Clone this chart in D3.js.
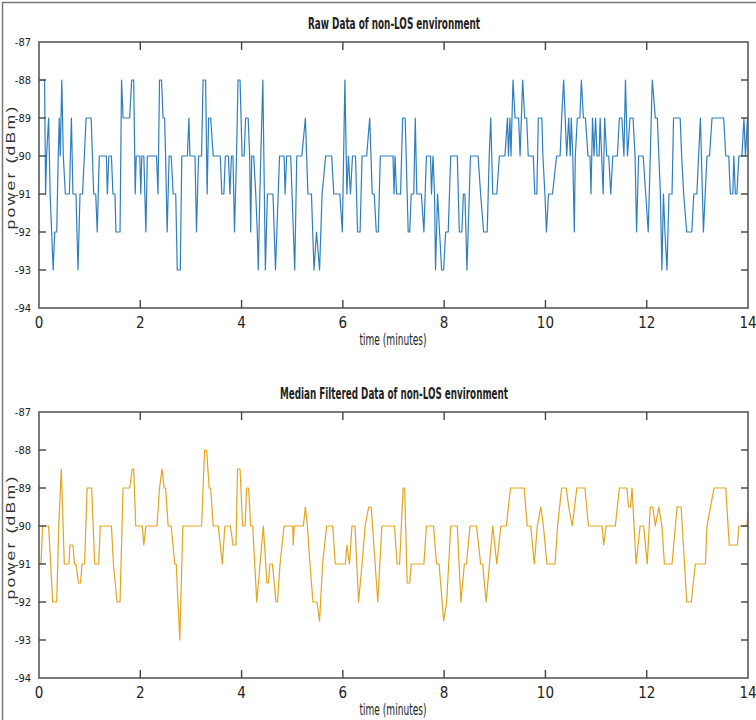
<!DOCTYPE html>
<html lang="en">
<head>
<meta charset="UTF-8">
<title>non-LOS environment</title>
<script src="https://cdn.jsdelivr.net/npm/d3@7"></script>
<style>
  body { margin: 0; background: #fff; }
  text { fill: #222; }
</style>
</head>
<body>
<svg id="viz"></svg>
<script>
// Data (time in minutes, power in dBm) ---
const rawData = [
  [0,-88],[0.11,-88],[0.13,-91],[0.15,-90],[0.19,-89],[0.22,-91],[0.25,-92],[0.28,-93],[0.31,-92],[0.35,-92],
  [0.38,-90],[0.40,-89],[0.42,-90],[0.45,-88],[0.48,-90],[0.52,-91],[0.60,-91],[0.64,-89],[0.67,-91],[0.73,-91],
  [0.77,-93],[0.81,-91],[0.86,-91],[0.93,-89],[1.03,-89],[1.08,-91],[1.12,-91],[1.15,-92],[1.19,-90],[1.33,-90],
  [1.35,-91],[1.38,-90],[1.43,-90],[1.46,-91],[1.50,-91],[1.52,-92],[1.60,-92],[1.63,-88],[1.66,-89],[1.79,-89],
  [1.83,-88],[1.87,-88],[1.90,-91],[1.92,-90],[1.99,-90],[2.01,-91],[2.03,-90],[2.07,-90],[2.11,-92],[2.14,-90],
  [2.32,-90],[2.35,-91],[2.38,-88],[2.42,-88],[2.45,-89],[2.48,-89],[2.50,-90],[2.53,-92],[2.57,-90],[2.61,-90],
  [2.65,-91],[2.70,-91],[2.73,-93],[2.79,-93],[2.82,-90],[2.93,-90],[2.96,-89],[2.98,-90],[3.08,-90],[3.11,-92],
  [3.15,-90],[3.21,-90],[3.24,-88],[3.29,-88],[3.32,-91],[3.35,-89],[3.39,-89],[3.44,-90],[3.58,-90],[3.61,-91],
  [3.65,-91],[3.68,-90],[3.74,-90],[3.77,-91],[3.80,-90],[3.83,-90],[3.86,-92],[3.90,-90],[3.93,-88],[3.97,-88],
  [4.01,-90],[4.05,-90],[4.08,-89],[4.13,-89],[4.16,-90],[4.18,-92],[4.20,-90],[4.24,-90],[4.28,-91],[4.31,-92],
  [4.33,-93],[4.36,-91],[4.42,-88],[4.47,-93],[4.51,-91],[4.62,-91],[4.67,-93],[4.75,-90],[4.84,-90],[4.86,-91],
  [4.89,-90],[4.97,-90],[5.05,-93],[5.09,-90],[5.19,-90],[5.26,-89],[5.31,-91],[5.38,-91],[5.43,-93],[5.48,-92],
  [5.54,-93],[5.59,-91],[5.66,-90],[5.78,-90],[5.82,-91],[5.94,-91],[5.99,-92],[6.04,-88],[6.08,-91],[6.11,-90],
  [6.15,-91],[6.19,-90],[6.25,-90],[6.29,-92],[6.34,-92],[6.38,-90],[6.47,-90],[6.53,-89],[6.58,-91],[6.62,-91],
  [6.66,-92],[6.70,-92],[6.74,-90],[6.99,-90],[7.01,-91],[7.03,-90],[7.06,-91],[7.14,-91],[7.18,-89],[7.23,-89],
  [7.27,-91],[7.29,-92],[7.32,-92],[7.35,-91],[7.40,-91],[7.43,-89],[7.46,-91],[7.55,-91],[7.60,-92],[7.65,-90],
  [7.73,-90],[7.75,-91],[7.78,-90],[7.81,-91],[7.83,-93],[7.87,-91],[7.91,-92],[7.95,-93],[7.99,-93],[8.03,-92],
  [8.08,-92],[8.13,-90],[8.26,-90],[8.30,-92],[8.35,-92],[8.38,-91],[8.41,-91],[8.45,-93],[8.52,-90],[8.67,-90],
  [8.72,-91],[8.78,-92],[8.85,-92],[8.89,-90],[8.92,-89],[8.96,-91],[9.04,-91],[9.09,-90],[9.20,-90],[9.25,-89],
  [9.27,-90],[9.30,-89],[9.32,-90],[9.36,-88],[9.40,-89],[9.47,-89],[9.50,-90],[9.55,-88],[9.59,-89],[9.63,-89],
  [9.66,-90],[9.76,-90],[9.79,-91],[9.83,-91],[9.86,-89],[9.93,-89],[9.95,-90],[9.99,-91],[10.02,-92],[10.06,-91],
  [10.14,-91],[10.22,-90],[10.29,-90],[10.32,-89],[10.36,-88],[10.39,-89],[10.42,-90],[10.46,-89],[10.49,-90],[10.51,-89],
  [10.54,-90],[10.57,-92],[10.59,-90],[10.63,-89],[10.68,-89],[10.71,-88],[10.75,-89],[10.79,-89],[10.84,-90],[10.88,-90],
  [10.90,-91],[10.93,-89],[10.96,-90],[10.99,-89],[11.02,-90],[11.06,-90],[11.08,-89],[11.11,-90],[11.14,-91],[11.17,-89],
  [11.21,-90],[11.25,-90],[11.29,-91],[11.33,-90],[11.42,-90],[11.46,-89],[11.51,-89],[11.55,-90],[11.58,-88],[11.62,-90],
  [11.67,-89],[11.73,-89],[11.77,-90],[11.80,-92],[11.84,-90],[11.93,-90],[11.98,-91],[12.03,-92],[12.07,-90],[12.11,-88],
  [12.17,-89],[12.21,-89],[12.24,-90],[12.27,-91],[12.30,-93],[12.33,-91],[12.36,-92],[12.40,-93],[12.44,-91],[12.50,-91],
  [12.53,-89],[12.66,-89],[12.69,-90],[12.73,-91],[12.79,-92],[12.89,-92],[12.93,-91],[12.99,-91],[13.06,-89],[13.12,-92],
  [13.19,-90],[13.24,-90],[13.29,-89],[13.52,-89],[13.56,-90],[13.62,-90],[13.65,-91],[13.70,-91],[13.72,-90],[13.75,-91],
  [13.78,-91],[13.82,-90],[13.88,-90],[13.92,-89],[13.95,-90],[13.99,-89],[14.0,-89]
];

const medianData = [
  [0,-91],[0.04,-91],[0.07,-90],[0.19,-90],[0.27,-92],[0.35,-92],[0.39,-90],[0.44,-88.5],[0.50,-91],[0.59,-91],
  [0.61,-90.5],[0.67,-90.5],[0.70,-91],[0.73,-91],[0.78,-91.5],[0.82,-91.5],[0.85,-91],[0.90,-91],[0.95,-89],[1.04,-89],
  [1.10,-91],[1.18,-91],[1.21,-90],[1.43,-90],[1.47,-91],[1.54,-92],[1.60,-92],[1.66,-89],[1.79,-89],[1.84,-88.5],
  [1.87,-88.5],[1.91,-90],[2.04,-90],[2.07,-90.5],[2.11,-90],[2.33,-90],[2.38,-89],[2.43,-88.5],[2.47,-89],[2.50,-89],
  [2.55,-90],[2.61,-90],[2.68,-91],[2.71,-91],[2.78,-93],[2.84,-90],[3.21,-90],[3.27,-88],[3.31,-88],[3.36,-89],
  [3.39,-89],[3.44,-90],[3.54,-90],[3.62,-91],[3.67,-90],[3.78,-90],[3.83,-90.5],[3.89,-90.5],[3.92,-88.5],[3.97,-88.5],
  [4.02,-90],[4.07,-90],[4.10,-89],[4.14,-89],[4.18,-90],[4.22,-90],[4.30,-92],[4.43,-90],[4.50,-91.5],[4.53,-91.5],
  [4.56,-91],[4.61,-91],[4.68,-92],[4.71,-92],[4.76,-91],[4.84,-90],[5.01,-90],[5.02,-90.5],[5.04,-90],[5.22,-90],
  [5.26,-89.5],[5.30,-90],[5.35,-91],[5.41,-92],[5.49,-92],[5.54,-92.5],[5.60,-91],[5.68,-90],[5.80,-90],[5.85,-91],
  [6.05,-91],[6.08,-90.5],[6.13,-91],[6.18,-90],[6.24,-90],[6.31,-92],[6.38,-91],[6.44,-90],[6.51,-89.5],[6.56,-89.5],
  [6.69,-92],[6.77,-90],[7.02,-90],[7.07,-91],[7.12,-91],[7.19,-89],[7.22,-89],[7.27,-91.5],[7.32,-91.5],[7.35,-91],
  [7.60,-91],[7.65,-90],[7.79,-90],[7.85,-91],[7.90,-91],[7.99,-92.5],[8.05,-92],[8.13,-90],[8.26,-90],[8.33,-92],
  [8.40,-91],[8.44,-91],[8.51,-90],[8.64,-90],[8.72,-91],[8.76,-91],[8.83,-92],[8.96,-90],[9.04,-91],[9.12,-90],
  [9.23,-90],[9.31,-89],[9.58,-89],[9.64,-90],[9.71,-90],[9.78,-91],[9.84,-90],[9.91,-89.5],[9.96,-90],[10.03,-91],
  [10.19,-91],[10.24,-90],[10.32,-89],[10.41,-89],[10.46,-89.5],[10.53,-90],[10.62,-89],[10.78,-89],[10.85,-90],[11.12,-90],
  [11.15,-90.5],[11.20,-90],[11.38,-90],[11.46,-89],[11.61,-89],[11.64,-89.5],[11.68,-89.5],[11.71,-89],[11.79,-91],[11.87,-90],
  [11.94,-90],[12.01,-91],[12.07,-89.5],[12.12,-89.5],[12.17,-90],[12.24,-89.5],[12.30,-90],[12.35,-91],[12.50,-91],[12.60,-89.5],
  [12.68,-89.5],[12.79,-92],[12.88,-92],[12.96,-91],[13.16,-91],[13.19,-90],[13.33,-89],[13.56,-89],[13.63,-90.5],[13.79,-90.5],
  [13.82,-90],[13.98,-90],[14.0,-89.6]
];

const xTicks = [0, 2, 4, 6, 8, 10, 12, 14];
const yTicks = [-87, -88, -89, -90, -91, -92, -93, -94];
const titles = ['Raw Data of non-LOS environment', 'Median Filtered Data of non-LOS environment'];
const xLabel = 'time (minutes)';
const yLabel = 'power (dBm)';

// Layout ---
const W = 756, H = 720;
const left = 39, right = 748;
const narrow = '"Liberation Sans Narrow", "DejaVu Sans Condensed", "Arial Narrow", sans-serif';
const panels = [
  { top: 42, bottom: 308, data: rawData, color: '#2f7fbf', title: titles[0], titleW: 172 },
  { top: 412, bottom: 678, data: medianData, color: '#e3a51f', title: titles[1], titleW: 228 }
];

const svg = d3.select('#viz').attr('width', W).attr('height', H);

// outer frame (left + top only visible in the source)
svg.append('path')
  .attr('d', `M2.5,${H} L2.5,2.5 L${W},2.5`)
  .attr('fill', 'none')
  .attr('stroke', '#777')
  .attr('stroke-width', 1.5);

const x = d3.scaleLinear().domain([0, 14]).range([left, right]);

panels.forEach(p => {
  const y = d3.scaleLinear().domain([-94, -87]).range([p.bottom, p.top]);
  const g = svg.append('g');

  // data line
  g.append('path')
    .datum(p.data)
    .attr('fill', 'none')
    .attr('stroke', p.color)
    .attr('stroke-width', 1.2)
    .attr('stroke-linejoin', 'round')
    .attr('d', d3.line().x(d => x(d[0])).y(d => y(d[1])));

  // box
  g.append('rect')
    .attr('x', left).attr('y', p.top)
    .attr('width', right - left).attr('height', p.bottom - p.top)
    .attr('fill', 'none').attr('stroke', '#5a5a5a').attr('stroke-width', 1.6);

  // inward ticks, all four sides
  const tk = g.append('g').attr('stroke', '#444').attr('stroke-width', 1.4);
  xTicks.slice(1, -1).forEach(t => {
    tk.append('line').attr('x1', x(t)).attr('x2', x(t)).attr('y1', p.bottom).attr('y2', p.bottom - 8);
    tk.append('line').attr('x1', x(t)).attr('x2', x(t)).attr('y1', p.top).attr('y2', p.top + 8);
  });
  yTicks.slice(1, -1).forEach(v => {
    tk.append('line').attr('x1', left).attr('x2', left + 7).attr('y1', y(v)).attr('y2', y(v));
    tk.append('line').attr('x1', right).attr('x2', right - 7).attr('y1', y(v)).attr('y2', y(v));
  });

  // tick labels
  g.selectAll('text.xt').data(xTicks).join('text')
    .attr('class', 'xt')
    .attr('x', d => x(d)).attr('y', p.bottom + 20)
    .attr('text-anchor', 'middle')
    .style('font-family', narrow).style('font-size', '15px')
    .text(d => d);
  g.selectAll('text.yt').data(yTicks).join('text')
    .attr('class', 'yt')
    .attr('x', left - 8).attr('y', d => y(d)).attr('dy', '0.35em')
    .attr('text-anchor', 'end')
    .style('font-family', narrow).style('font-size', '11px')
    .text(d => d);

  // title
  g.append('text')
    .attr('x', 394).attr('y', p.top - 13)
    .attr('text-anchor', 'middle')
    .attr('textLength', p.titleW).attr('lengthAdjust', 'spacingAndGlyphs')
    .style('font-family', narrow).style('font-size', '15px').style('font-weight', 'bold')
    .text(p.title);

  // axis labels
  g.append('text')
    .attr('x', 393).attr('y', p.bottom + 37)
    .attr('text-anchor', 'middle')
    .attr('textLength', 67).attr('lengthAdjust', 'spacingAndGlyphs')
    .style('font-family', narrow).style('font-size', '15px')
    .text(xLabel);
  const cy = (p.top + p.bottom) / 2 - 8;
  g.append('text')
    .attr('transform', `translate(15,${cy}) rotate(-90)`)
    .attr('text-anchor', 'middle')
    .attr('textLength', 125).attr('lengthAdjust', 'spacingAndGlyphs')
    .style('font-family', '"Liberation Sans", Arial, sans-serif').style('font-size', '12px')
    .style('letter-spacing', '1.5px')
    .style('fill', '#333')
    .text(yLabel);
});
</script>
</body>
</html>
